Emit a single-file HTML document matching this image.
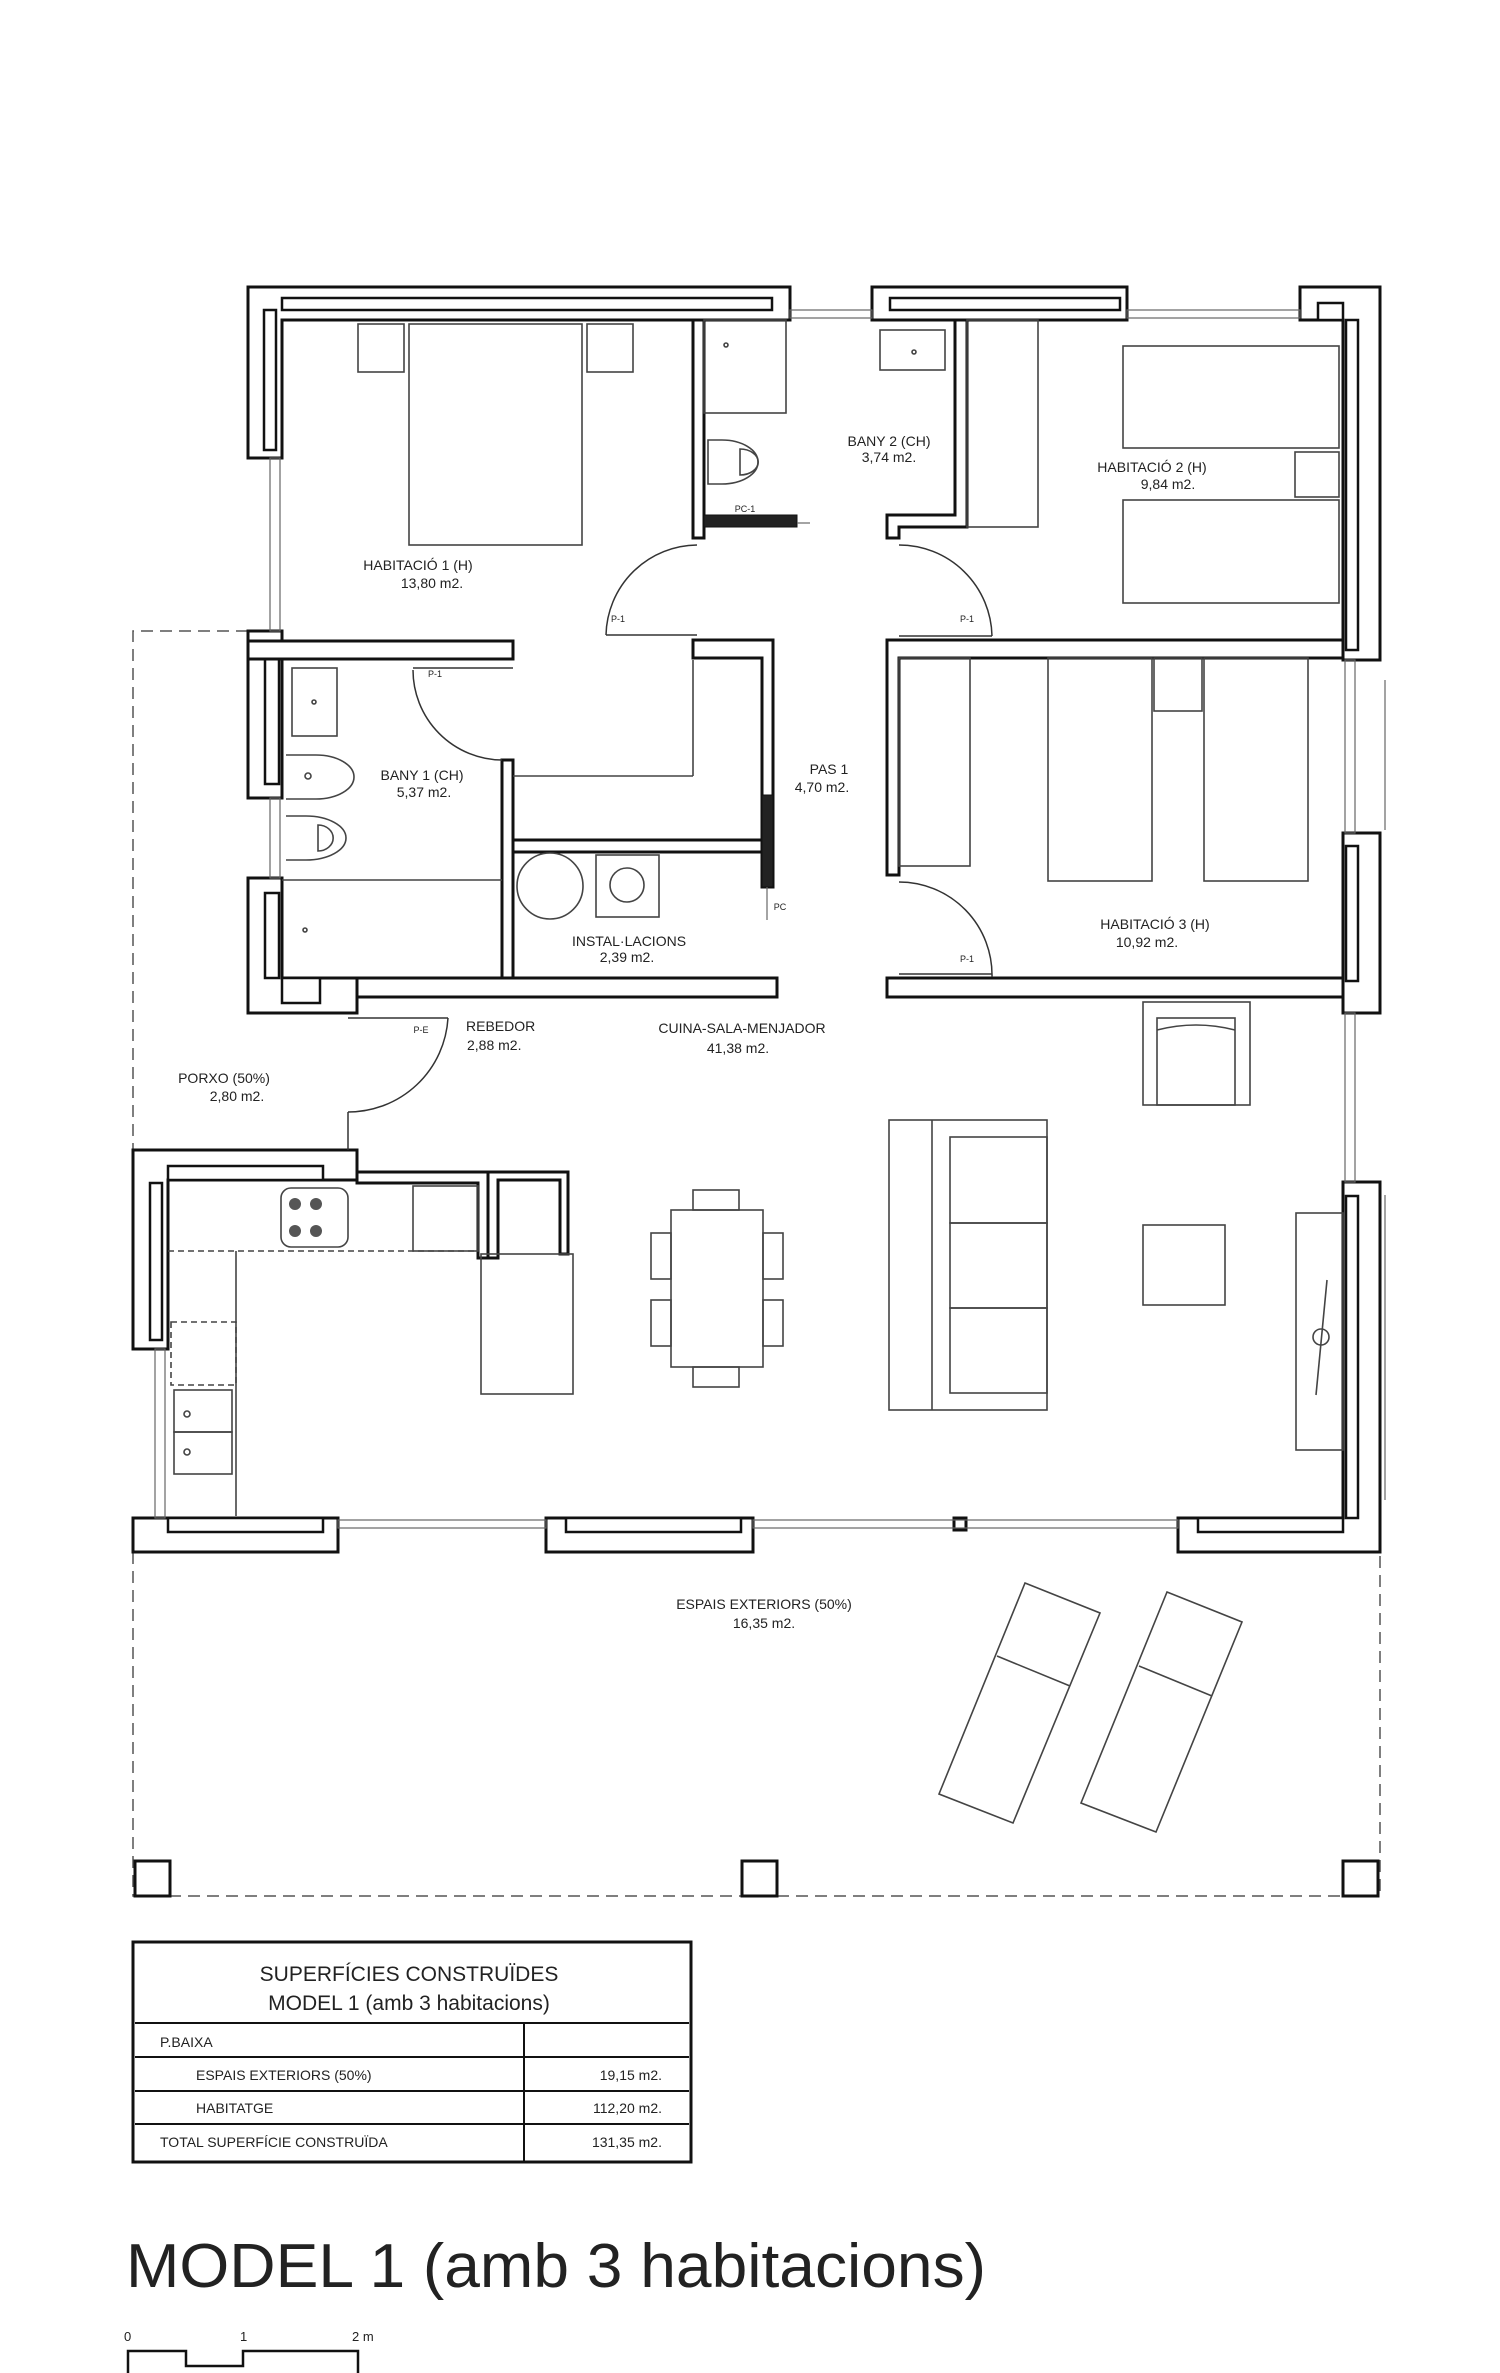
<!DOCTYPE html>
<html><head><meta charset="utf-8"><style>
html,body{margin:0;padding:0;background:#fff;}
svg{display:block;}
text{font-family:"Liberation Sans",Arial,sans-serif;fill:#222;}
</style></head><body>
<svg width="1500" height="2373" viewBox="0 0 1500 2373" xmlns="http://www.w3.org/2000/svg">
<g fill="none" stroke="#555" stroke-width="1.5" stroke-dasharray="12,7">
<polyline points="248,631 133,631 133,1151"/>
<polyline points="133,1552 133,1896 1380,1896 1380,1552"/>
</g>
<g fill="#fff" stroke="#111" stroke-width="3">
<!-- top wall -->
<polygon points="248,287 790,287 790,320 282,320 282,458 248,458"/>
<rect x="282" y="298" width="490" height="12" stroke-width="2.5"/>
<rect x="264" y="310" width="12" height="140" stroke-width="2.5"/>
<rect x="872" y="287" width="255" height="33"/>
<rect x="890" y="298" width="230" height="12" stroke-width="2.5"/>
<polygon points="1300,287 1380,287 1380,660 1343,660 1343,320 1300,320"/>
<rect x="1318" y="303" width="25" height="17" stroke-width="2.5"/>
<rect x="1346" y="320" width="12" height="330" stroke-width="2.5"/>
<!-- left wall blocks -->
<rect x="248" y="631" width="34" height="167"/>
<rect x="265" y="659" width="14" height="125" stroke-width="2.5"/>
<polygon points="248,878 282,878 282,978 357,978 357,1013 248,1013"/>
<rect x="265" y="893" width="14" height="85" stroke-width="2.5"/>
<rect x="282" y="978" width="38" height="25" stroke-width="2.5"/>
<!-- right wall blocks -->
<rect x="1343" y="833" width="37" height="180"/>
<rect x="1346" y="846" width="12" height="135" stroke-width="2.5"/>
<polygon points="1343,1182 1380,1182 1380,1552 1178,1552 1178,1518 1343,1518"/>
<rect x="1346" y="1196" width="12" height="322" stroke-width="2.5"/>
<rect x="1198" y="1518" width="145" height="14" stroke-width="2.5"/>
<!-- interior walls -->
<rect x="693" y="320" width="11" height="218"/>
<polygon points="955,320 967,320 967,527 899,527 899,538 887,538 887,515 955,515"/>
<rect x="248" y="641" width="265" height="18"/>
<polygon points="693,640 773,640 773,887 762,887 762,658 693,658"/>
<rect x="502" y="760" width="11" height="218"/>
<rect x="513" y="840" width="249" height="12"/>
<polygon points="887,640 1343,640 1343,658 899,658 899,875 887,875"/>
<rect x="357" y="978" width="420" height="19"/>
<rect x="887" y="978" width="456" height="19"/>
<!-- kitchen walls -->
<polygon points="133,1150 357,1150 357,1180 168,1180 168,1349 133,1349"/>
<rect x="168" y="1166" width="155" height="14" stroke-width="2.5"/>
<rect x="150" y="1183" width="12" height="157" stroke-width="2.5"/>
<polygon points="357,1172 488,1172 488,1258 478,1258 478,1183 357,1183"/>
<polygon points="488,1172 568,1172 568,1254 560,1254 560,1180 498,1180 498,1258 488,1258"/>
<rect x="133" y="1518" width="205" height="34"/>
<rect x="168" y="1518" width="155" height="14" stroke-width="2.5"/>
<rect x="546" y="1518" width="207" height="34"/>
<rect x="566" y="1518" width="175" height="14" stroke-width="2.5"/>
<!-- posts -->
<rect x="135" y="1861" width="35" height="35"/>
<rect x="742" y="1861" width="35" height="35"/>
<rect x="1343" y="1861" width="35" height="35"/>
<rect x="954" y="1518" width="12" height="12"/>
<!-- sliding doors -->
<rect x="704" y="515" width="93" height="12" fill="#222" stroke-width="1"/>
<rect x="762" y="795" width="11" height="92" fill="#222" stroke-width="1"/>
</g>
<!-- windows -->
<g fill="none" stroke="#666" stroke-width="1.2">
<rect x="790" y="310" width="82" height="8"/><rect x="1127" y="310" width="173" height="8"/>
<rect x="270" y="458" width="10" height="173"/><rect x="270" y="798" width="10" height="80"/>
<rect x="1345" y="660" width="10" height="173"/><rect x="1345" y="1013" width="10" height="169"/>
<rect x="155" y="1349" width="10" height="169"/>
<rect x="338" y="1520" width="208" height="8"/><rect x="753" y="1520" width="425" height="8"/>
<line x1="1385" y1="680" x2="1385" y2="830"/><line x1="1385" y1="1195" x2="1385" y2="1500"/>
<line x1="797" y1="523" x2="810" y2="523"/><line x1="767" y1="887" x2="767" y2="920"/>
</g>
<!-- doors -->
<g fill="none" stroke="#333" stroke-width="1.5">
<path d="M606,635 A92,92 0 0 1 697,545"/><line x1="606" y1="635" x2="697" y2="635"/>
<path d="M992,636 A93,93 0 0 0 899,545"/><line x1="899" y1="636" x2="992" y2="636"/>
<path d="M413,670 A90,90 0 0 0 502,760"/><line x1="413" y1="668" x2="513" y2="668"/>
<path d="M992,977 A93,93 0 0 0 899,882"/><line x1="899" y1="974" x2="992" y2="974"/>
<path d="M448,1018 A100,100 0 0 1 348,1112"/><line x1="348" y1="1018" x2="448" y2="1018"/><line x1="348" y1="1112" x2="348" y2="1150"/>
</g>
<!-- furniture -->
<g fill="none" stroke="#444" stroke-width="1.6">
<rect x="409" y="324" width="173" height="221"/><rect x="358" y="324" width="46" height="48"/><rect x="587" y="324" width="46" height="48"/>
<rect x="704" y="320" width="82" height="93"/><circle cx="726" cy="345" r="2"/>
<rect x="880" y="330" width="65" height="40"/><circle cx="914" cy="352" r="2"/>
<path d="M708,440 h14 a36,22 0 0 1 0,44 h-14 z"/><path d="M740,449 a14,10 0 0 1 0,26 z"/>
<rect x="967" y="320" width="71" height="207"/>
<rect x="1123" y="346" width="216" height="102"/><rect x="1123" y="500" width="216" height="103"/><rect x="1295" y="452" width="44" height="45"/>
<rect x="899" y="658" width="71" height="208"/><rect x="1048" y="658" width="104" height="223"/><rect x="1204" y="658" width="104" height="223"/><rect x="1154" y="658" width="48" height="53"/>
<rect x="292" y="668" width="45" height="68"/><circle cx="314" cy="702" r="2"/>
<path d="M286,755 h30 a38,22 0 0 1 0,44 h-30"/><circle cx="308" cy="776" r="3"/>
<path d="M286,816 h20 a40,22 0 0 1 0,44 h-20"/><path d="M318,825 a14,12 0 0 1 0,26 z"/>
<line x1="282" y1="880" x2="502" y2="880"/><circle cx="305" cy="930" r="2"/>
<line x1="513" y1="776" x2="693" y2="776"/><line x1="693" y1="660" x2="693" y2="776"/>
<circle cx="550" cy="886" r="33"/><rect x="596" y="855" width="63" height="62"/><circle cx="627" cy="885" r="17"/>
<rect x="1143" y="1002" width="107" height="103"/><rect x="1157" y="1018" width="78" height="87"/><path d="M1157,1030 q39,-10 78,0"/>
<rect x="889" y="1120" width="158" height="290"/><line x1="932" y1="1120" x2="932" y2="1410"/>
<rect x="950" y="1137" width="97" height="86"/><rect x="950" y="1223" width="97" height="85"/><rect x="950" y="1308" width="97" height="85"/>
<rect x="1143" y="1225" width="82" height="80"/><rect x="1296" y="1213" width="47" height="237"/>
<line x1="1327" y1="1280" x2="1316" y2="1395"/><circle cx="1321" cy="1337" r="8"/>
<rect x="671" y="1210" width="92" height="157"/><rect x="693" y="1190" width="46" height="20"/><rect x="693" y="1367" width="46" height="20"/>
<rect x="651" y="1233" width="20" height="46"/><rect x="651" y="1300" width="20" height="46"/><rect x="763" y="1233" width="20" height="46"/><rect x="763" y="1300" width="20" height="46"/>
<rect x="281" y="1188" width="67" height="59" rx="10"/>
<rect x="413" y="1186" width="65" height="65"/><rect x="481" y="1254" width="92" height="140"/>
<path d="M168,1251 H478" stroke-dasharray="6,4"/><line x1="236" y1="1251" x2="236" y2="1516"/>
<rect x="171" y="1322" width="65" height="63" stroke-dasharray="6,4"/>
<rect x="174" y="1390" width="58" height="42"/><rect x="174" y="1432" width="58" height="42"/>
<circle cx="187" cy="1414" r="3"/><circle cx="187" cy="1452" r="3"/>
<polygon points="1025,1583 1100,1613 1013,1823 939,1794"/><line x1="997" y1="1656" x2="1070" y2="1686"/>
<polygon points="1167,1592 1242,1622 1156,1832 1081,1803"/><line x1="1139" y1="1666" x2="1212" y2="1696"/>
</g>
<g fill="#555"><circle cx="295" cy="1204" r="6"/><circle cx="316" cy="1204" r="6"/><circle cx="295" cy="1231" r="6"/><circle cx="316" cy="1231" r="6"/></g>
<!-- labels -->
<g font-size="14" text-anchor="middle">
<text x="418" y="570">HABITACIÓ 1 (H)</text><text x="432" y="588">13,80 m2.</text>
<text x="889" y="446">BANY 2 (CH)</text><text x="889" y="462">3,74 m2.</text>
<text x="1152" y="472">HABITACIÓ 2 (H)</text><text x="1168" y="489">9,84 m2.</text>
<text x="422" y="780">BANY 1 (CH)</text><text x="424" y="797">5,37 m2.</text>
<text x="829" y="774">PAS 1</text><text x="822" y="792">4,70 m2.</text>
<text x="629" y="946">INSTAL·LACIONS</text><text x="627" y="962">2,39 m2.</text>
<text x="1155" y="929">HABITACIÓ 3 (H)</text><text x="1147" y="947">10,92 m2.</text>
<text x="742" y="1033">CUINA-SALA-MENJADOR</text><text x="738" y="1053">41,38 m2.</text>
<text x="224" y="1083">PORXO (50%)</text><text x="237" y="1101">2,80 m2.</text>
<text x="764" y="1609">ESPAIS EXTERIORS (50%)</text><text x="764" y="1628">16,35 m2.</text>
</g>
<g font-size="14"><text x="466" y="1031">REBEDOR</text><text x="467" y="1050">2,88 m2.</text></g>
<g font-size="9" text-anchor="middle">
<text x="618" y="622">P-1</text><text x="967" y="622">P-1</text><text x="435" y="677">P-1</text><text x="967" y="962">P-1</text>
<text x="745" y="512">PC-1</text><text x="421" y="1033">P-E</text><text x="780" y="910">PC</text>
</g>
<!-- table -->
<g fill="none" stroke="#111">
<rect x="133" y="1942" width="558" height="220" stroke-width="3"/>
<g stroke-width="2"><line x1="135" y1="2023" x2="689" y2="2023"/><line x1="135" y1="2057" x2="689" y2="2057"/><line x1="135" y1="2091" x2="689" y2="2091"/><line x1="135" y1="2124" x2="689" y2="2124"/><line x1="524" y1="2023" x2="524" y2="2162"/></g>
</g>
<g font-size="21" text-anchor="middle"><text x="409" y="1981">SUPERFÍCIES CONSTRUÏDES</text><text x="409" y="2010">MODEL 1 (amb 3 habitacions)</text></g>
<g font-size="14"><text x="160" y="2047">P.BAIXA</text><text x="196" y="2080">ESPAIS EXTERIORS (50%)</text><text x="196" y="2113">HABITATGE</text><text x="160" y="2147">TOTAL SUPERFÍCIE CONSTRUÏDA</text></g>
<g font-size="14" text-anchor="end"><text x="662" y="2080">19,15 m2.</text><text x="662" y="2113">112,20 m2.</text><text x="662" y="2147">131,35 m2.</text></g>
<text x="126" y="2287" font-size="62" textLength="860" lengthAdjust="spacingAndGlyphs" fill="#000">MODEL 1 (amb 3 habitacions)</text>
<g font-size="13"><text x="124" y="2341">0</text><text x="240" y="2341">1</text><text x="352" y="2341">2 m</text></g>
<polyline points="128,2373 128,2351 186,2351 186,2366 243,2366 243,2351 358,2351 358,2373" fill="none" stroke="#111" stroke-width="2.5"/>
</svg>
</body></html>
